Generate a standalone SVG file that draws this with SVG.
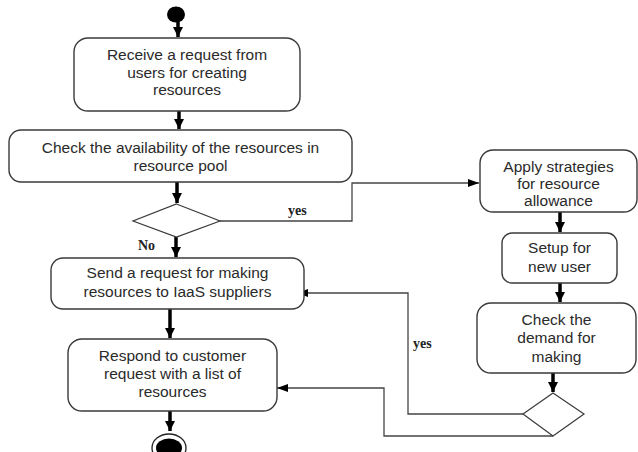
<svg xmlns="http://www.w3.org/2000/svg" width="638" height="452" viewBox="0 0 638 452">
<defs>
<style>
.box{fill:#fff;stroke:#3a3a3a;stroke-width:1.4}
.dia{fill:#fff;stroke:#3a3a3a;stroke-width:1.2}
.t{font-family:"Liberation Sans",Arial,sans-serif;font-size:15.5px;fill:#2a2a2a;text-anchor:middle}
.lbl{font-family:"Liberation Serif","Times New Roman",serif;font-size:14px;font-weight:bold;fill:#222}
.thick{fill:none;stroke:#000;stroke-width:3.5}
.thin{fill:none;stroke:#444;stroke-width:1.3}
</style>
<marker id="ah" markerUnits="userSpaceOnUse" markerWidth="12" markerHeight="12" viewBox="0 0 12 12" refX="10" refY="6" orient="auto">
<path d="M0,1 L10,6 L0,11 Z" fill="#000"/>
</marker>
<marker id="ahs" markerUnits="userSpaceOnUse" markerWidth="12" markerHeight="10" viewBox="0 0 12 10" refX="11" refY="5" orient="auto">
<path d="M0,1 L11,5 L0,9 Z" fill="#000"/>
</marker>
</defs>
<rect width="638" height="452" fill="#fff"/>
<g id="connectors">
<path class="thick" d="M178,20 V37" marker-end="url(#ah)"/>
<path class="thick" d="M179,111 V129" marker-end="url(#ah)"/>
<path class="thick" d="M177,182 V203" marker-end="url(#ah)"/>
<path class="thick" d="M176,237 V257" marker-end="url(#ah)"/>
<path class="thick" d="M170,309 V338" marker-end="url(#ah)"/>
<path class="thick" d="M170,411 V431" marker-end="url(#ah)"/>
<path class="thick" d="M560,212 V232" marker-end="url(#ah)"/>
<path class="thick" d="M560,283 V302" marker-end="url(#ah)"/>
<path class="thick" d="M553,373 V392" marker-end="url(#ah)"/>
<path class="thin" d="M220,221 H352 V183 H479" marker-end="url(#ahs)"/>
<path class="thin" d="M523,414 H408 V293 H297" marker-end="url(#ahs)"/>
<path class="thin" d="M553,436 H384 V388 H277" marker-end="url(#ahs)"/>
<text class="lbl" x="288" y="215">yes</text>
<text class="lbl" x="138" y="250">No</text>
<text class="lbl" x="413" y="348">yes</text>
</g>
<g id="start"><ellipse cx="176" cy="14.5" rx="9" ry="8" fill="#000"/></g>
<g id="receive">
<rect class="box" x="74" y="38" width="226" height="73" rx="14"/>
<text class="t" x="187" y="60">Receive a request from</text>
<text class="t" x="187" y="78">users for creating</text>
<text class="t" x="187" y="95">resources</text>
</g>
<g id="check">
<rect class="box" x="9" y="130" width="343" height="52" rx="12"/>
<text class="t" x="180.5" y="153">Check the availability of the resources in</text>
<text class="t" x="180.5" y="171">resource pool</text>
</g>
<g id="decision1"><polygon class="dia" points="176.5,204 220,221 176.5,237 133,221"/></g>
<g id="send">
<rect class="box" x="51" y="258" width="253" height="51" rx="12"/>
<text class="t" x="177.5" y="278">Send a request for making</text>
<text class="t" x="177.5" y="297">resources to IaaS suppliers</text>
</g>
<g id="respond">
<rect class="box" x="68" y="339" width="209" height="72" rx="14"/>
<text class="t" x="172.5" y="361">Respond to customer</text>
<text class="t" x="172.5" y="379">request with a list of</text>
<text class="t" x="172.5" y="397">resources</text>
</g>
<g id="end">
<ellipse cx="169" cy="448" rx="17" ry="14" fill="#fff" stroke="#222" stroke-width="1.3"/>
<ellipse cx="169" cy="448" rx="13" ry="9.5" fill="#000"/>
</g>
<g id="apply">
<rect class="box" x="480" y="150" width="157" height="62" rx="13"/>
<text class="t" x="558.5" y="172">Apply strategies</text>
<text class="t" x="558.5" y="189">for resource</text>
<text class="t" x="558.5" y="206">allowance</text>
</g>
<g id="setup">
<rect class="box" x="502" y="233" width="115" height="50" rx="10"/>
<text class="t" x="559.5" y="253">Setup for</text>
<text class="t" x="559.5" y="272">new user</text>
</g>
<g id="demand">
<rect class="box" x="477" y="303" width="159" height="70" rx="14"/>
<text class="t" x="556.5" y="325">Check the</text>
<text class="t" x="556.5" y="343">demand for</text>
<text class="t" x="556.5" y="362">making</text>
</g>
<g id="decision2"><polygon class="dia" points="553,393 584,414 553,436 523,414"/></g>
</svg>
